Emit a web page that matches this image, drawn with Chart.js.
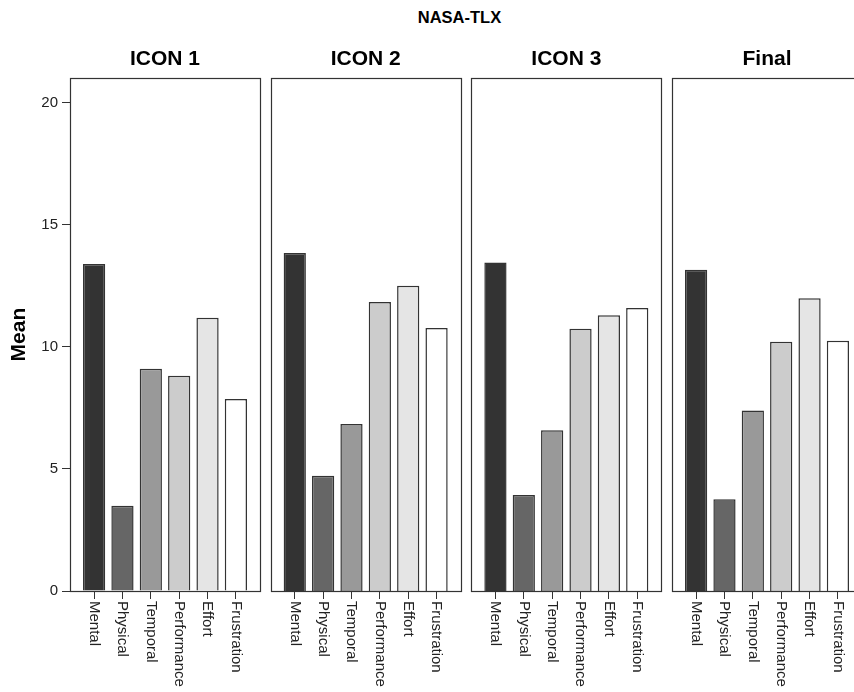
<!DOCTYPE html>
<html>
<head>
<meta charset="utf-8">
<script src="https://cdn.jsdelivr.net/npm/chart.js@4"></script>
<style>
html,body{margin:0;padding:0;background:#fff;}
#wrap{position:relative;width:854px;height:692px;overflow:hidden;background:#fff;}
#wrap canvas{position:absolute;left:0;top:0;}
#main{position:absolute;left:0;width:919px;top:8px;text-align:center;font:bold 16.5px 'Liberation Sans',Arial,sans-serif;color:#000;}
</style>
</head>
<body>
<div id="wrap">
  <div id="main">NASA-TLX</div>
  <canvas id="c0" width="900" height="692"></canvas>
  <canvas id="c1" width="900" height="692"></canvas>
  <canvas id="c2" width="900" height="692"></canvas>
  <canvas id="c3" width="900" height="692"></canvas>
</div>
<script>
// ---- data ----
const categories = ['Mental', 'Physical', 'Temporal', 'Performance', 'Effort', 'Frustration'];
const panelTitles = ['ICON 1', 'ICON 2', 'ICON 3', 'Final'];
const icon1 = [13.39, 3.49, 9.10, 8.81, 11.19, 7.86];
const icon2 = [13.84, 4.72, 6.84, 11.84, 12.50, 10.77];
const icon3 = [13.45, 3.93, 6.58, 10.74, 11.29, 11.59];
const finalVals = [13.16, 3.76, 7.39, 10.21, 11.99, 10.25];
const yTickStep = 5;
const yMax = 21;
const yAxisTitle = 'Mean';

const seriesByPanel = [icon1, icon2, icon3, finalVals];
const barColors = ['#333333', '#666666', '#999999', '#cccccc', '#e5e5e5', '#ffffff'];
const FONT = "'Liberation Sans', Arial, sans-serif";

const panelDeco = {
  id: 'panelDeco',
  afterDatasetsDraw(chart) {
    const a = chart.chartArea, ctx = chart.ctx;
    ctx.save();
    ctx.strokeStyle = '#333';
    ctx.lineWidth = 1.2;
    ctx.strokeRect(Math.round(a.left) + 0.5, Math.round(a.top) + 0.5,
                   Math.round(a.right - a.left), Math.round(a.bottom - a.top));
    ctx.restore();
  },
  afterDraw(chart) {
    const xs = chart.scales.x, ctx = chart.ctx;
    ctx.save();
    ctx.font = '15px ' + FONT;
    ctx.fillStyle = '#222';
    ctx.textAlign = 'left';
    ctx.textBaseline = 'middle';
    xs.ticks.forEach(t => {
      const label = categories[t.value];
      if (label === undefined) return;
      const x = xs.getPixelForValue(t.value);
      const y = chart.chartArea.bottom + 10;
      ctx.save();
      ctx.translate(x, y);
      ctx.rotate(Math.PI / 2);
      ctx.fillText(label, 0, 0);
      ctx.restore();
    });
    ctx.restore();
  }
};

seriesByPanel.forEach((vals, p) => {
  const L = 70 + p * 200.67;
  const W = 190;
  const yOpts = {
    display: p === 0,
    min: 0, max: yMax,
    ticks: { stepSize: yTickStep, includeBounds: false, color: '#222', padding: 4,
             font: { family: FONT, size: 15 } },
    grid: { drawOnChartArea: false, drawTicks: true, tickLength: 8, color: '#333' },
    border: { display: false },
    title: { display: true, text: yAxisTitle, color: '#000',
             font: { family: FONT, size: 21, weight: 'bold' }, padding: { top: 7, bottom: 0 } }
  };
  if (p === 0) yOpts.afterFit = function (s) { s.width = 70; };
  new Chart(document.getElementById('c' + p), {
    type: 'bar',
    data: {
      datasets: [{
        data: vals.map((v, i) => ({ x: i, y: v })),
        backgroundColor: barColors,
        borderColor: '#333333',
        borderWidth: 1.5,
        barPercentage: 0.98,
        categoryPercentage: 0.8
      }]
    },
    options: {
      responsive: false,
      animation: false,
      devicePixelRatio: 1,
      layout: { padding: { left: p === 0 ? 0 : L, right: 900 - L - W, top: 41, bottom: 1 } },
      plugins: {
        legend: { display: false },
        tooltip: { enabled: false },
        title: {
          display: true, fullSize: false, text: panelTitles[p], color: '#000',
          font: { family: FONT, size: 21, weight: 'bold' },
          padding: { top: 6, bottom: 6 }
        }
      },
      scales: {
        x: {
          type: 'linear', min: -0.85, max: 5.85, offset: false,
          ticks: { display: false, stepSize: 1, includeBounds: false },
          grid: { display: true, offset: false, drawOnChartArea: false, drawTicks: true, tickLength: 8, color: '#333' },
          border: { display: false },
          afterFit(s) { s.height = 100; }
        },
        y: yOpts
      }
    },
    plugins: [panelDeco]
  });
});
</script>
</body>
</html>
